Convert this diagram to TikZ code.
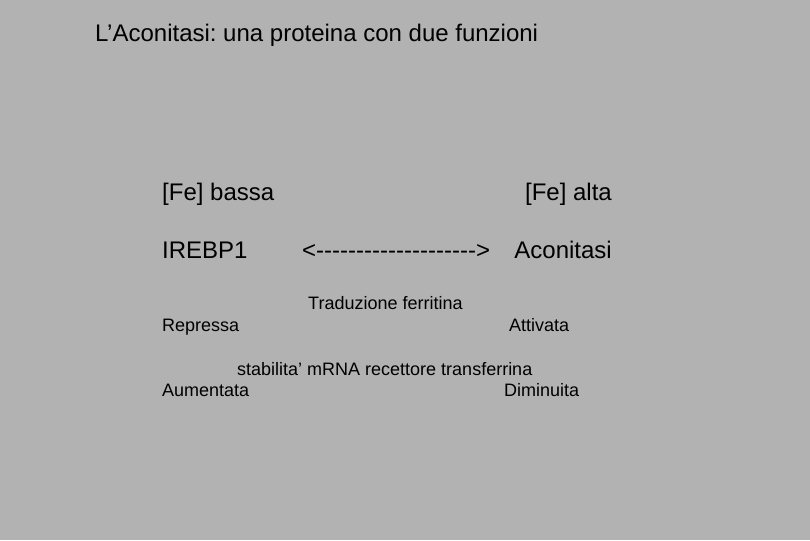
\documentclass[tikz,border=0pt]{standalone}
\usepackage{fontspec}
\setmainfont{Liberation Sans}
\frenchspacing
\begin{document}
\begin{tikzpicture}[x=1pt,y=-1pt,
  big/.style={inner sep=0pt,anchor=base west,font=\fontsize{24}{28}\selectfont,text=black},
  small/.style={inner sep=0pt,anchor=base west,font=\fontsize{18}{22}\selectfont,text=black}]
\fill[fill={rgb,255:red,178;green,178;blue,178}] (0,0) rectangle (810,540);
\useasboundingbox (0,0) rectangle (810,540);
\node[big] (title) at (95,42) {\frenchspacing L’Aconitasi: una proteina con due funzioni};
\node[big] (febassa) at (162,200) {[Fe] bassa};
\node[big,anchor=base east] (fealta) at (612,200) {[Fe] alta};
\node[big] (irebp) at (162,258) {IREBP1};
\node[big] (arrow) at (302,258) {<-{}-{}-{}-{}-{}-{}-{}-{}-{}-{}-{}-{}-{}-{}-{}-{}-{}-{}-{}-{}>};
\node[big,anchor=base east] (acon) at (612,258) {Aconitasi};
\node[small] (trad) at (308,309) {Traduzione ferritina};
\node[small] (repr) at (162,331) {Repressa};
\node[small] (attiv) at (509,331) {Attivata};
\node[small] (stab) at (237,375) {stabilita’ mRNA recettore transferrina};
\node[small] (aum) at (162,396) {Aumentata};
\node[small] (dim) at (504,396) {Diminuita};
\end{tikzpicture}
\end{document}
